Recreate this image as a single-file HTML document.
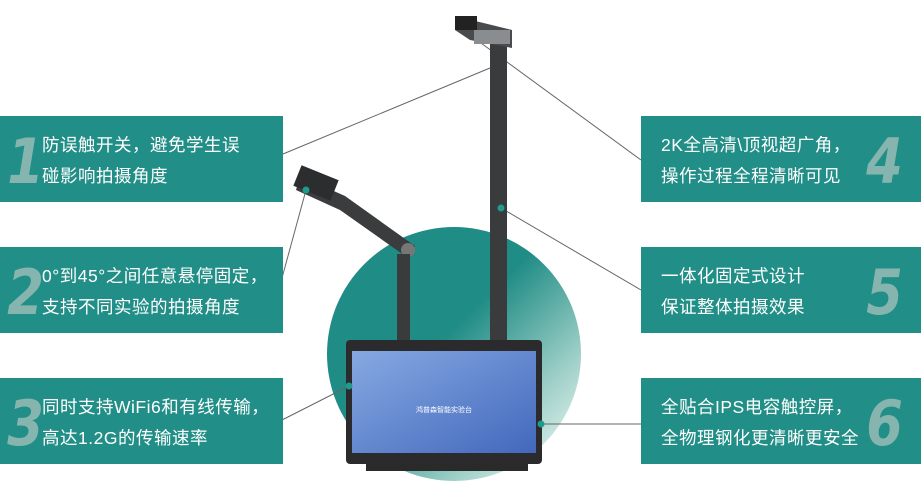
<!DOCTYPE html>
<html><head><meta charset="utf-8"><style>
body{margin:0;width:921px;height:482px;background:#fff;position:relative;overflow:hidden;font-family:"Liberation Sans","Noto Sans CJK SC",sans-serif}
.b{position:absolute;background:#218f87;color:#fff;height:86px}
.t{position:absolute;font-size:17.5px;line-height:31px;letter-spacing:0.5px}
.n{position:absolute;font-size:62px;font-style:italic;color:#86b5b0;font-family:"DejaVu Sans",sans-serif;font-weight:bold;top:6px;line-height:80px;transform:scaleX(0.85)}
.L{left:0;width:283px}.L .t{left:42px;top:14px}.L .n{left:4px}
.R{left:641px;width:280px}.R .t{left:20px;top:14px}.R .n{left:222px}
</style></head><body>
<div style="position:absolute;left:327px;top:227px;width:254px;height:254px;border-radius:50%;background:linear-gradient(135deg,#1f8c85 0%,#1f8c85 45%,#9fd0c8 75%,#ffffff 100%)"></div>
<svg width="921" height="482" style="position:absolute;left:0;top:0">
<g stroke="#666" stroke-width="1" fill="none">
<line x1="283" y1="154" x2="490" y2="68"/>
<line x1="470" y1="35" x2="641" y2="160"/>
<line x1="501" y1="208" x2="641" y2="290"/>
<line x1="306" y1="190" x2="282" y2="278"/>
<line x1="349" y1="386" x2="282" y2="420"/>
<line x1="541" y1="424" x2="641" y2="424"/>
</g>
<rect x="490" y="38" width="17" height="302" fill="#3a3b3d"/>
<polygon points="455,16 512,30 512,48 470,40 455,30" fill="#4a4b4d"/>
<rect x="455" y="16" width="22" height="14" fill="#222"/>
<rect x="474" y="30" width="36" height="14" fill="#8a8d90"/>
<polygon points="300,176 345,196 415,246 408,258 340,210 296,190" fill="#3b3c3e"/>
<rect x="296" y="172" width="40" height="22" fill="#2c2d2f" transform="rotate(22 316 183)"/>
<circle cx="408" cy="250" r="7" fill="#777"/>
<rect x="397" y="254" width="13" height="86" fill="#3a3b3d"/>
<rect x="366" y="462" width="162" height="9" fill="#2a2a2a"/>
<rect x="346" y="340" width="196" height="124" rx="4" fill="#2b2b2d"/>
<defs><linearGradient id="g" x1="0" y1="0" x2="1" y2="1"><stop offset="0" stop-color="#86a9e2"/><stop offset="1" stop-color="#4368bc"/></linearGradient></defs>
<rect x="352" y="351" width="184" height="102" fill="url(#g)"/>
<text x="444" y="412" font-size="7" fill="#fff" text-anchor="middle" font-family="Noto Sans CJK SC">鸿普森智能实验台</text>
<g fill="#1f9a8f"><circle cx="306" cy="190" r="3.5"/><circle cx="501" cy="208" r="3.5"/><circle cx="349" cy="386" r="3.5"/><circle cx="541" cy="424" r="3.5"/></g>
</svg>
<div class="b L" style="top:116px"><div class="n">1</div><div class="t">防误触开关，避免学生误<br>碰影响拍摄角度</div></div>
<div class="b L" style="top:247px"><div class="n">2</div><div class="t">0°到45°之间任意悬停固定，<br>支持不同实验的拍摄角度</div></div>
<div class="b L" style="top:378px"><div class="n">3</div><div class="t">同时支持WiFi6和有线传输，<br>高达1.2G的传输速率</div></div>
<div class="b R" style="top:116px"><div class="n">4</div><div class="t">2K全高清\顶视超广角，<br>操作过程全程清晰可见</div></div>
<div class="b R" style="top:247px"><div class="n">5</div><div class="t">一体化固定式设计<br>保证整体拍摄效果</div></div>
<div class="b R" style="top:378px"><div class="n">6</div><div class="t">全贴合IPS电容触控屏，<br>全物理钢化更清晰更安全</div></div>
</body></html>
